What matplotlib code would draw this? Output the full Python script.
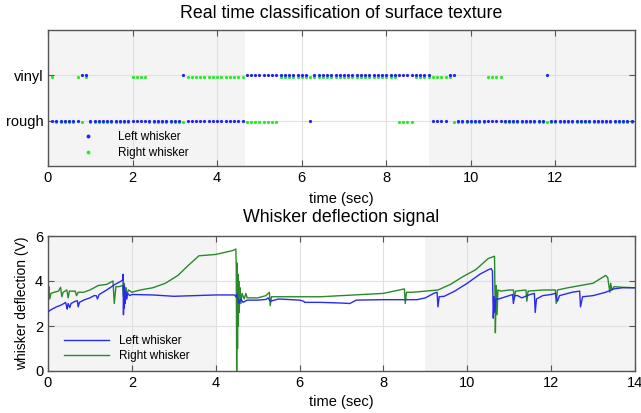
import numpy as np
import matplotlib
matplotlib.use("Agg")
import matplotlib.pyplot as plt

plt.rcParams['font.family'] = ['Liberation Sans', 'DejaVu Sans']

# classification, one sample every 0.1 s from 0.1 s to 13.8 s (R = rough, V = vinyl)
class_times = np.round(np.arange(1, 139) * 0.1, 1)
left_runs = [('R', 7), ('V', 2), ('R', 22), ('V', 1), ('R', 14), ('V', 15), ('R', 1),
             ('V', 28), ('R', 4), ('V', 2), ('R', 21), ('V', 1), ('R', 20)]
right_runs = [('V', 1), ('R', 5), ('V', 1), ('R', 1), ('V', 1), ('R', 10), ('V', 4),
              ('R', 9), ('V', 14), ('R', 8), ('V', 28), ('R', 4), ('V', 9), ('R', 8),
              ('V', 4), ('R', 31)]
texture_labels = ['rough', 'vinyl']

# whisker deflection signal (time s, volts)
left_t = [0.0, 0.05, 0.1, 0.2, 0.3, 0.38, 0.42, 0.44, 0.46, 0.48, 0.52, 0.55, 0.6, 0.65, 0.7,
          0.72, 0.75, 0.85, 1.0, 1.1, 1.15, 1.18, 1.22, 1.4, 1.6, 1.75, 1.78, 1.79, 1.8, 1.81,
          1.82, 1.83, 1.84, 1.86, 1.88, 1.9, 1.95, 2.0, 2.5, 3.0, 3.5, 4.0, 4.45, 4.48, 4.5,
          4.55, 4.6, 4.65, 4.7, 4.75, 5.0, 5.2, 5.25, 5.3, 5.5, 6.0, 6.1, 6.12, 6.5, 7.0, 7.2,
          7.35, 8.0, 8.8, 9.0, 9.2, 9.28, 9.3, 9.33, 9.45, 9.7, 10.0, 10.3, 10.5, 10.57, 10.6,
          10.62, 10.64, 10.66, 10.68, 10.75, 11.0, 11.08, 11.1, 11.13, 11.2, 11.3, 11.5, 11.6,
          11.62, 11.65, 11.8, 12.0, 12.1, 12.15, 12.2, 12.5, 12.68, 12.7, 12.75, 13.0, 13.3,
          13.5, 13.7, 14.0]
left_v = [2.62, 2.7, 2.75, 2.85, 2.92, 3.0, 3.05, 2.9, 2.75, 3.0, 2.82, 3.0, 3.05, 3.1, 3.12,
          2.85, 3.05, 3.15, 3.25, 3.35, 3.35, 3.2, 3.4, 3.6, 3.85, 4.0, 4.05, 4.3, 2.5, 3.8,
          2.8, 3.6, 3.0, 3.5, 3.2, 3.45, 3.35, 3.4, 3.38, 3.32, 3.35, 3.38, 3.38, 3.3, 3.4,
          3.0, 3.2, 3.05, 3.1, 3.15, 3.15, 3.18, 3.25, 3.1, 3.2, 3.15, 3.1, 3.05, 3.05, 3.02, 3.0,
          3.15, 3.17, 3.17, 3.25, 3.45, 3.5, 2.85, 3.3, 3.32, 3.55, 3.9, 4.3, 4.5, 4.55, 4.45,
          2.35, 3.3, 2.6, 3.2, 3.2, 3.35, 3.4, 3.0, 3.35, 3.35, 3.25, 3.4, 3.45,
          2.6, 3.2, 3.35, 3.4, 3.45, 3.1, 3.35, 3.5, 3.55, 2.85, 3.3, 3.35, 3.5,
          3.65, 3.7, 3.7]
right_t = [0.0, 0.02, 0.04, 0.07, 0.15, 0.25, 0.3, 0.33, 0.36, 0.45, 0.48, 0.51, 0.6, 0.65,
           0.68, 0.72, 0.85, 1.0, 1.2, 1.4, 1.55, 1.58, 1.62, 1.7, 1.78, 1.8, 1.82, 1.84, 1.86,
           1.88, 1.92, 2.0, 2.2, 2.5, 2.8, 3.1, 3.35, 3.6, 4.0, 4.4, 4.48, 4.49, 4.5, 4.51, 4.52,
           4.53, 4.54, 4.55, 4.56, 4.58, 4.6, 4.63, 4.68, 4.72, 4.75, 5.0, 5.2, 5.28, 5.3, 5.33,
           5.5, 6.0, 6.5, 7.0, 7.5, 8.0, 8.5, 8.52, 8.55, 8.7, 9.0, 9.3, 9.6, 9.9, 10.2, 10.5,
           10.65, 10.67, 10.69, 10.71, 10.73, 10.8, 11.0, 11.1, 11.12, 11.15, 11.4, 11.42,
           11.45, 11.8, 12.1, 12.12, 12.15, 12.4, 12.7, 13.0, 13.3, 13.35, 13.4, 13.42, 13.45,
           13.5, 13.7, 14.0]
right_v = [3.45, 3.75, 3.2, 3.45, 3.5, 3.55, 3.72, 3.3, 3.5, 3.6, 3.25, 3.55, 3.55, 3.55,
           3.35, 3.5, 3.5, 3.6, 3.8, 3.85, 4.0, 3.0, 3.75, 3.75, 3.8, 3.3, 3.9, 3.2, 3.7,
           3.4, 3.6, 3.5, 3.6, 3.7, 3.9, 4.25, 4.7, 5.12, 5.18, 5.35, 5.42, 4.6, 0.0, 4.8, 1.0,
           4.3, 2.0, 4.0, 2.6, 3.7, 3.0, 3.45, 3.2, 3.45, 3.25, 3.25, 3.35, 3.5, 2.9, 3.3,
           3.3, 3.3, 3.3, 3.35, 3.4, 3.45, 3.65, 3.0, 3.5, 3.5, 3.55, 3.6, 3.85, 4.2, 4.5, 5.0,
           5.1, 1.7, 3.8, 2.5, 3.6, 3.55, 3.6, 3.6, 3.2, 3.55, 3.6, 3.1,
           3.55, 3.6, 3.6, 3.0, 3.6, 3.7, 3.8, 3.9, 4.25, 4.15, 3.5, 3.9, 3.6,
           3.75, 3.72, 3.7]


def expand(runs):
    out = []
    for lab, n in runs:
        out += [1 if lab == 'V' else 0] * n
    return np.array(out)


left_cls = expand(left_runs)
right_cls = expand(right_runs)

W, H = 641, 413
fig = plt.figure(figsize=(W / 100, H / 100), dpi=100)
ax1 = fig.add_axes([48 / W, (H - 166) / H, 587 / W, 136 / H])
ax2 = fig.add_axes([48 / W, (H - 371) / H, 587 / W, 135 / H])

shade = '#f4f4f4'
edge = '#555555'
gridc = '#e0e0e0'

# top: classification
ax1.axvspan(0, 4.65, color=shade, lw=0, zorder=0)
ax1.axvspan(9.0, 14, color=shade, lw=0, zorder=0)
ax1.plot(class_times, left_cls, 'o', color='#2020ff', ms=2.3, mew=0, label='Left whisker', zorder=3)
ax1.plot(class_times, right_cls - 0.04, 'o', color='#22ee22', ms=2.3, mew=0, label='Right whisker', zorder=2)
ax1.set_xlim(0, 13.88)
ax1.set_ylim(-1, 2)
ax1.set_yticks([0, 1])
ax1.set_yticklabels(texture_labels)
ax1.set_xticks(np.arange(0, 13, 2))
ax1.set_title('Real time classification of surface texture', fontsize=12.8, pad=9)
ax1.set_xlabel('time (sec)', fontsize=10.5, labelpad=5)
ax1.legend(loc='upper left', bbox_to_anchor=(0.04, 0.29), frameon=False, fontsize=8.5,
           handletextpad=1.5, borderaxespad=0, labelspacing=0.3, markerscale=1.2)

# bottom: deflection
ax2.axvspan(0, 4.0, color=shade, lw=0, zorder=0)
ax2.axvspan(9.0, 14, color=shade, lw=0, zorder=0)
ax2.plot(left_t, left_v, color='#2a2aee', lw=1.0, label='Left whisker', zorder=3)
ax2.plot(right_t, right_v, color='#2a8a2a', lw=1.0, label='Right whisker', zorder=2)
ax2.set_xlim(0, 14)
ax2.set_ylim(0, 6)
ax2.set_xticks(np.arange(0, 15, 2))
ax2.set_yticks([0, 2, 4, 6])
ax2.set_title('Whisker deflection signal', fontsize=12.8, pad=10)
ax2.set_xlabel('time (sec)', fontsize=10.5, labelpad=4)
ax2.set_ylabel('whisker deflection (V)', fontsize=10, labelpad=4)
ax2.legend(loc='lower left', bbox_to_anchor=(0.02, 0.03), frameon=False, fontsize=8.5,
           handlelength=3.8, borderaxespad=0, labelspacing=0.25)

for ax in (ax1, ax2):
    ax.set_facecolor('white')
    ax.grid(True, color=gridc, lw=0.8)
    ax.set_axisbelow(True)
    ax.tick_params(direction='in', length=4, labelsize=10.5, color=edge, top=True, right=True,
                   labeltop=False, labelright=False)
    for s in ax.spines.values():
        s.set_color(edge)
        s.set_linewidth(1.0)

fig.savefig('out.png', dpi=100)
